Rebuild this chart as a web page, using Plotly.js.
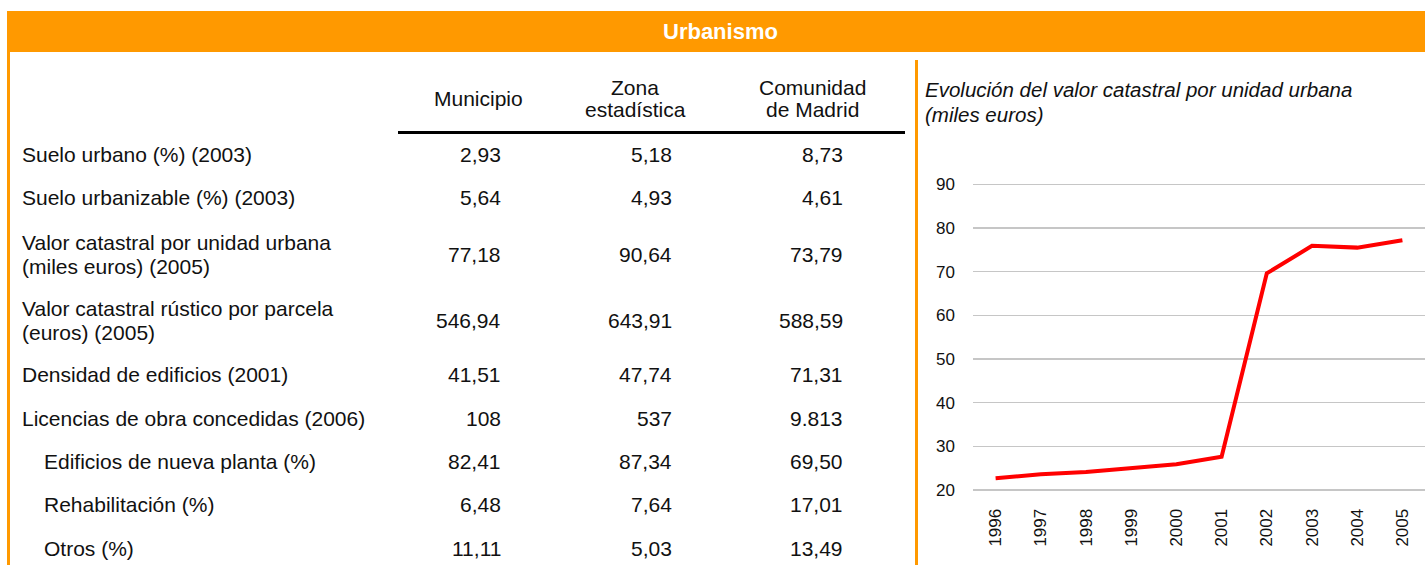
<!DOCTYPE html>
<html>
<head>
<meta charset="utf-8">
<script src="https://cdn.plot.ly/plotly-3.0.1.min.js"></script>
<style>html,body{margin:0;padding:0;background:#fff;overflow:hidden}</style>
</head>
<body>
<div id="chart" style="width:1425px;height:565px"></div>
<script>
// ---------- data ----------
const headerTitle = 'Urbanismo';
const chartTitleLines = ['Evolución del valor catastral por unidad urbana', '(miles euros)'];
const years = ['1996', '1997', '1998', '1999', '2000', '2001', '2002', '2003', '2004', '2005'];
const valorCatastral = [22.7, 23.6, 24.1, 25.0, 25.9, 27.6, 69.6, 75.9, 75.5, 77.18];
const yTicks = [20, 30, 40, 50, 60, 70, 80, 90];

const columnHeaders = [['Municipio'], ['Zona', 'estadística'], ['Comunidad', 'de Madrid']];
const rowLabels = [
  ['Suelo urbano (%) (2003)'],
  ['Suelo urbanizable (%) (2003)'],
  ['Valor catastral por unidad urbana', '(miles euros) (2005)'],
  ['Valor catastral rústico por parcela', '(euros) (2005)'],
  ['Densidad de edificios (2001)'],
  ['Licencias de obra concedidas (2006)'],
  ['Edificios de nueva planta (%)'],
  ['Rehabilitación (%)'],
  ['Otros (%)']
];
const indentedRows = [false, false, false, false, false, false, true, true, true];
const rowDecimals = [2, 2, 2, 2, 2, 0, 2, 2, 2];
const municipio = [2.93, 5.64, 77.18, 546.94, 41.51, 108, 82.41, 6.48, 11.11];
const zonaEstadistica = [5.18, 4.93, 90.64, 643.91, 47.74, 537, 87.34, 7.64, 5.03];
const comunidadMadrid = [8.73, 4.61, 73.79, 588.59, 71.31, 9813, 69.50, 17.01, 13.49];

// ---------- layout geometry (pixels) ----------
const W = 1425, H = 565;
const px = x => x / W;
const py = y => 1 - y / H;
const FONT = 'Liberation Sans, Arial, sans-serif';
const ORANGE = '#FF9900';
const rowCenters = [154.5, 197, 254.5, 320, 374, 418, 461.5, 505, 548.5];
const lineGap = 24;
const colRight = [503, 674, 845];
const colCenter = [478, 635, 812];

function fmt(v, d) {
  let s = v.toFixed(d);
  let parts = s.split('.');
  parts[0] = parts[0].replace(/\B(?=(\d{3})+(?!\d))/g, '.');
  return parts.join(',');
}

const annotations = [];
function addText(text, x, y, opts) {
  annotations.push(Object.assign({
    text: text, xref: 'paper', yref: 'paper', x: px(x), y: py(y),
    xanchor: 'left', yanchor: 'middle', showarrow: false,
    font: {family: FONT, size: 21, color: '#111'}
  }, opts || {}));
}

// header
addText(headerTitle, 720.5, 31, {xanchor: 'center',
  font: {family: FONT, size: 22, color: '#ffffff', weight: 'bold'}});

// column headers
columnHeaders.forEach((lines, i) => {
  if (lines.length === 1) {
    addText(lines[0], colCenter[i], 99, {xanchor: 'center'});
  } else {
    lines.forEach((ln, k) => addText(ln, colCenter[i], 87 + k * 23, {xanchor: 'center'}));
  }
});

// rows
const cols = [municipio, zonaEstadistica, comunidadMadrid];
rowLabels.forEach((lines, r) => {
  const xLab = indentedRows[r] ? 42 : 20;
  const n = lines.length;
  lines.forEach((ln, k) => {
    const y = rowCenters[r] + (k - (n - 1) / 2) * lineGap;
    addText(ln, xLab, y);
  });
  cols.forEach((col, c) => {
    addText(fmt(col[r], rowDecimals[r]), colRight[c], rowCenters[r], {xanchor: 'right'});
  });
});

// chart title
chartTitleLines.forEach((ln, k) => addText(ln, 923, 89.5 + k * 25,
  {font: {family: FONT, size: 20.5, color: '#111', style: 'italic'}}));

const shapes = [
  {type: 'rect', xref: 'paper', yref: 'paper', x0: px(7), x1: px(1425), y0: py(11), y1: py(52),
   fillcolor: ORANGE, line: {width: 0}, layer: 'below'},
  {type: 'rect', xref: 'paper', yref: 'paper', x0: px(7), x1: px(10), y0: py(52), y1: py(565),
   fillcolor: ORANGE, line: {width: 0}, layer: 'below'},
  {type: 'rect', xref: 'paper', yref: 'paper', x0: px(915), x1: px(918), y0: py(60), y1: py(565),
   fillcolor: ORANGE, line: {width: 0}, layer: 'below'},
  {type: 'rect', xref: 'paper', yref: 'paper', x0: px(398), x1: px(905), y0: py(131), y1: py(134),
   fillcolor: '#000000', line: {width: 0}}
];

// chart geometry: y=20 at 490px, y=90 at 184.3px
const yMin = 19, yMax = 91;
const pxPerUnit = (490 - 184.3) / 70;
const yBottomPx = 490 + (20 - yMin) * pxPerUnit;
const yTopPx = 490 - (yMax - 20) * pxPerUnit;

const trace = {
  type: 'scatter', mode: 'lines', x: years, y: valorCatastral,
  line: {color: '#FF0000', width: 4}, hoverinfo: 'x+y', showlegend: false
};

const layout = {
  width: W, height: H,
  margin: {l: 0, r: 0, t: 0, b: 0, pad: 0},
  paper_bgcolor: '#ffffff', plot_bgcolor: '#ffffff',
  showlegend: false,
  xaxis: {
    type: 'category', domain: [px(973), 1], range: [-0.5, 9.5],
    showgrid: false, zeroline: false, showline: false, ticks: '',
    tickangle: -90, ticklabelstandoff: 10,
    tickfont: {family: FONT, size: 17, color: '#111'}
  },
  yaxis: {
    domain: [py(yBottomPx), py(yTopPx)], range: [yMin, yMax],
    tickvals: yTicks, showgrid: true, gridcolor: '#c6c6c6', gridwidth: 1.5,
    zeroline: false, showline: false, ticks: '', ticklabelstandoff: 17,
    tickfont: {family: FONT, size: 17, color: '#111'}
  },
  shapes: shapes,
  annotations: annotations
};

Plotly.newPlot('chart', [trace], layout, {displayModeBar: false, staticPlot: true});
</script>
</body>
</html>
